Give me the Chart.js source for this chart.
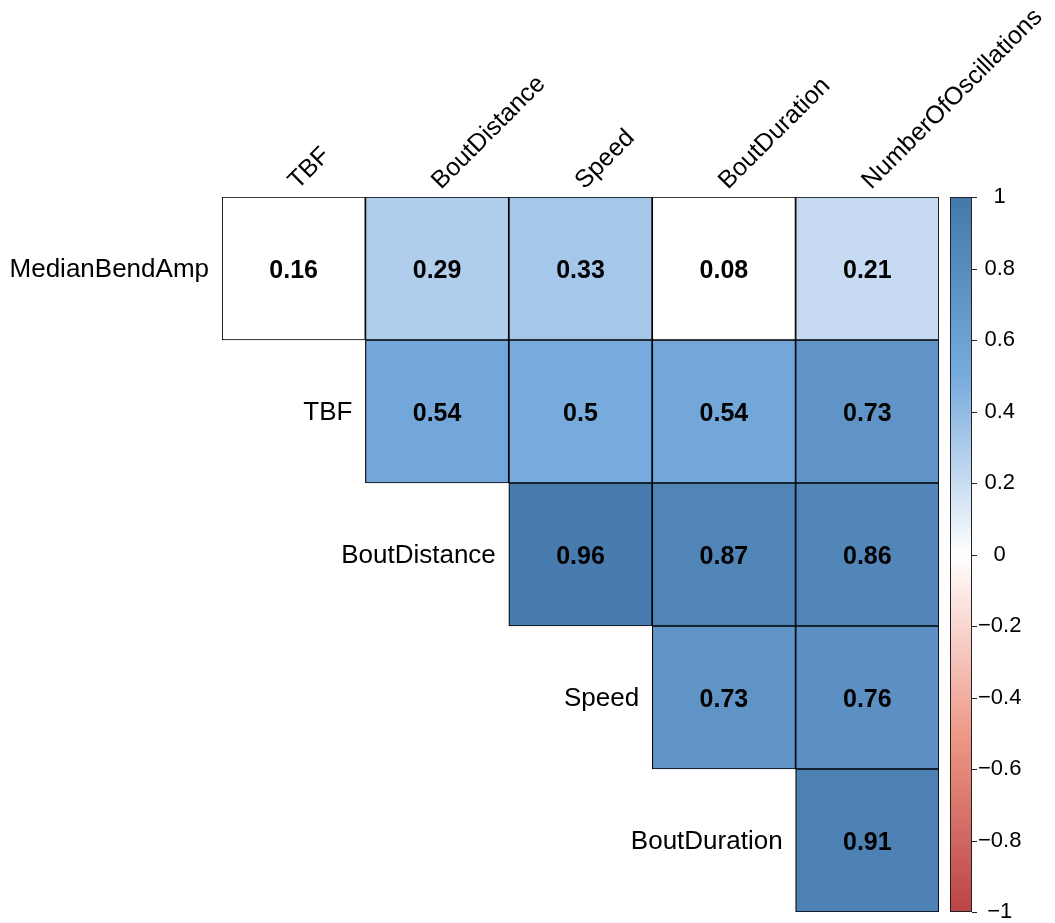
<!DOCTYPE html>
<html>
<head>
<meta charset="utf-8">
<script src="https://cdn.jsdelivr.net/npm/chart.js@4/dist/chart.umd.min.js"></script>
<style>
  body { margin: 0; background: #fff; }
  #wrap { width: 1055px; height: 923px; }
</style>
</head>
<body>
<div id="wrap"><canvas id="corr" width="1055" height="923"></canvas></div>
<script>
const rowLabels = ['MedianBendAmp', 'TBF', 'BoutDistance', 'Speed', 'BoutDuration'];
const colLabels = ['TBF', 'BoutDistance', 'Speed', 'BoutDuration', 'NumberOfOscillations'];

// upper triangle, one array per row (null = not drawn)
const rowMedianBendAmp = [0.16, 0.29, 0.33, 0.08, 0.21];
const rowTBF          = [null, 0.54, 0.5, 0.54, 0.73];
const rowBoutDistance = [null, null, 0.96, 0.87, 0.86];
const rowSpeed        = [null, null, null, 0.73, 0.76];
const rowBoutDuration = [null, null, null, null, 0.91];
// cells left blank (white) because not significant
const insignificant = [[0, 0], [0, 3]];

const barTicks = [-1, -0.8, -0.6, -0.4, -0.2, 0, 0.2, 0.4, 0.6, 0.8, 1];
const palette = ['#BB4444', '#EE9988', '#FFFFFF', '#77AADD', '#4477AA'];

const FONT = '"Liberation Sans", Arial, Helvetica, sans-serif';

function hexRgb(h) {
  return [parseInt(h.slice(1, 3), 16), parseInt(h.slice(3, 5), 16), parseInt(h.slice(5, 7), 16)];
}

function corrColor(v) {
  const t = (v + 1) / 2 * (palette.length - 1);
  const i = Math.min(Math.floor(t), palette.length - 2);
  const f = t - i;
  const a = hexRgb(palette[i]), b = hexRgb(palette[i + 1]);
  const c = a.map((x, k) => Math.round(x + (b[k] - x) * f));
  return `rgb(${c[0]},${c[1]},${c[2]})`;
}

const matrix = [rowMedianBendAmp, rowTBF, rowBoutDistance, rowSpeed, rowBoutDuration];
const cells = [];
const colors = [];
matrix.forEach((row, r) => {
  row.forEach((v, c) => {
    if (v === null) return;
    const blank = insignificant.some(p => p[0] === r && p[1] === c);
    cells.push({ x: colLabels[c], y: [r, r + 1], v: v });
    colors.push(blank ? '#FFFFFF' : corrColor(v));
  });
});

const fmtTick = v => {
  const n = Math.round(v * 10) / 10;
  return n < 0 ? '\u2212' + Math.abs(n) : String(n);
};

const corrDecor = {
  id: 'corrDecor',
  afterDraw(chart) {
    const ctx = chart.ctx;
    const xs = chart.scales.x, ys = chart.scales.y, cb = chart.scales.cb;
    const area = chart.chartArea;

    // values in the cells
    ctx.save();
    ctx.fillStyle = '#000';
    ctx.font = 'bold 25px ' + FONT;
    ctx.textAlign = 'center';
    ctx.textBaseline = 'middle';
    chart.getDatasetMeta(0).data.forEach((el, i) => {
      const c = el.getCenterPoint();
      ctx.fillText(String(cells[i].v), c.x, c.y + 3);
    });
    ctx.restore();

    // row labels, right aligned next to first cell of each row
    ctx.save();
    ctx.fillStyle = '#000';
    ctx.font = '26px ' + FONT;
    ctx.textAlign = 'right';
    ctx.textBaseline = 'middle';
    rowLabels.forEach((lab, r) => {
      const left = xs.getPixelForValue(r) - (xs.getPixelForValue(1) - xs.getPixelForValue(0)) / 2;
      const y = (ys.getPixelForValue(r) + ys.getPixelForValue(r + 1)) / 2;
      ctx.fillText(lab, left - 13, y + 1);
    });
    ctx.restore();

    // column labels, rotated 45 degrees
    ctx.save();
    ctx.fillStyle = '#000';
    ctx.font = '25px ' + FONT;
    ctx.textAlign = 'left';
    ctx.textBaseline = 'alphabetic';
    colLabels.forEach((lab, c) => {
      const x = xs.getPixelForValue(c);
      ctx.save();
      ctx.translate(x + 4, area.top - 7);
      ctx.rotate(-Math.PI / 4);
      ctx.fillText(lab, 0, 0);
      ctx.restore();
    });
    ctx.restore();

    // colour bar
    const bx = area.right + 11, bw = 22;
    const top = cb.getPixelForValue(1), bot = cb.getPixelForValue(-1);
    const g = ctx.createLinearGradient(0, bot, 0, top);
    palette.forEach((col, i) => g.addColorStop(i / (palette.length - 1), col));
    ctx.save();
    ctx.fillStyle = g;
    ctx.fillRect(bx, top, bw, bot - top);
    ctx.strokeStyle = '#222';
    ctx.lineWidth = 1;
    ctx.strokeRect(bx + 0.5, top + 0.5, bw - 1, bot - top - 1);
    ctx.beginPath();
    barTicks.forEach(t => {
      const y = Math.round(cb.getPixelForValue(t)) + 0.5;
      ctx.moveTo(bx + bw, y);
      ctx.lineTo(bx + bw + 5, y);
    });
    ctx.stroke();
    ctx.restore();
  }
};

new Chart(document.getElementById('corr'), {
  type: 'bar',
  data: {
    labels: colLabels,
    datasets: [{
      data: cells,
      backgroundColor: colors,
      borderColor: '#000',
      borderWidth: 1.2,
      borderSkipped: false,
      barPercentage: 1,
      categoryPercentage: 1
    }]
  },
  options: {
    responsive: false,
    animation: false,
    layout: { padding: { left: 222, top: 197, right: 0, bottom: 11 } },
    plugins: { legend: { display: false }, tooltip: { enabled: false } },
    scales: {
      x: { type: 'category', display: false },
      y: { type: 'linear', display: false, reverse: true, min: 0, max: 5 },
      cb: {
        type: 'linear',
        position: 'right',
        min: -1,
        max: 1,
        afterFit: s => { s.width = 116; s.paddingTop = 0; s.paddingBottom = 0; },
        afterBuildTicks: s => { s.ticks = barTicks.map(v => ({ value: v })); },
        grid: { display: false },
        border: { display: false },
        ticks: {
          padding: 31,
          crossAlign: 'center',
          color: '#000',
          font: { family: FONT, size: 22 },
          callback: v => fmtTick(v)
        }
      }
    }
  },
  plugins: [corrDecor]
});
</script>
</body>
</html>
